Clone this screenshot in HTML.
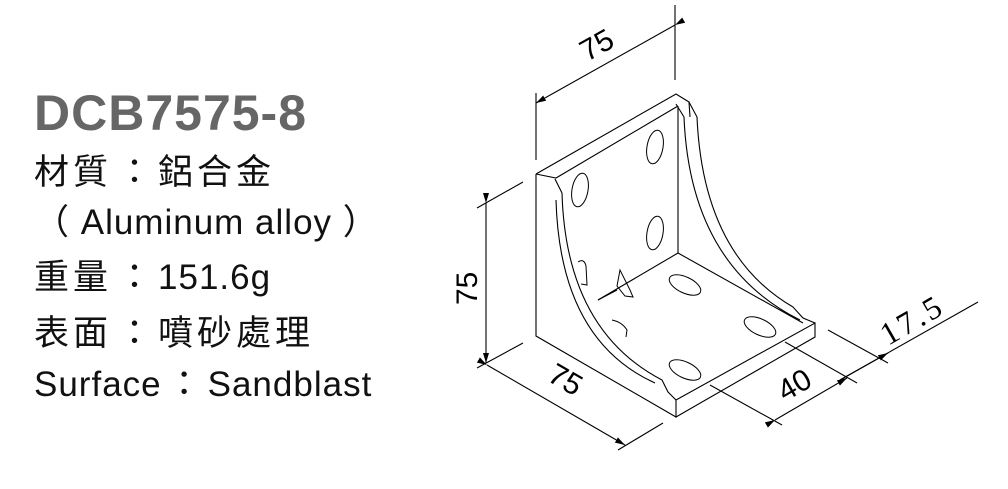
<!DOCTYPE html>
<html><head><meta charset="utf-8"><style>
body{margin:0;width:1008px;height:489px;background:#fff;overflow:hidden;position:relative;font-family:"Liberation Sans","Noto Sans CJK TC",sans-serif;}
.t{position:absolute;left:34px;font-size:35px;color:#111;white-space:nowrap;line-height:1;letter-spacing:1px;}
.c{display:inline-block;width:46px;text-align:center;}
.k{letter-spacing:4px;}
</style></head><body>
<div class="t" style="top:88px;font-size:50px;font-weight:bold;color:#666;letter-spacing:1px;">DCB7575-8</div>
<div class="t" style="top:155px;"><span class="k">材質</span><span class="c">：</span><span class="k">鋁合金</span></div>
<div class="t" style="top:205px;">（ Aluminum alloy ）</div>
<div class="t" style="top:260px;"><span class="k">重量</span><span class="c">：</span>151.6g</div>
<div class="t" style="top:316px;"><span class="k">表面</span><span class="c">：</span><span class="k">噴砂處理</span></div>
<div class="t" style="top:367px;">Surface<span class="c">：</span>Sandblast</div>
<svg width="1008" height="489" style="position:absolute;left:0;top:0" fill="none" stroke="#000" stroke-width="1.1">
<defs><marker id="a" markerWidth="10" markerHeight="6" refX="10" refY="3" orient="auto" markerUnits="userSpaceOnUse"><path d="M0,0L10,3L0,6z" fill="#000" stroke="none"/></marker></defs>
<path d="M536,174 L676,94 L689,102 L690,117"/>
<path d="M536,174 L536,336 L676,417 L676,400"/>
<path d="M536,174 L556,178 L678,106"/>
<path d="M678,106 L678,253 L803,323"/>
<path d="M678,253 L598,300"/>
<path d="M676,400 L815,323 L815,337 L676,417"/>
<path d="M555,179 L562,193"/>
<path d="M562,193 Q566,330 662,380 L668,392 L676,400"/>
<path d="M556,200 Q560,340 655,383"/>
<path d="M689,102 L697,117 Q703,255 793,307 L803,318 L815,323"/>
<path d="M684,117 Q690,265 800,320"/>
<path d="M676,104 L684,117"/>
<g stroke-width="1">
<ellipse cx="655" cy="147" rx="8" ry="17" transform="rotate(10 655 147)"/>
<ellipse cx="580" cy="190" rx="8" ry="17" transform="rotate(10 580 190)"/>
<ellipse cx="655" cy="233" rx="8" ry="17" transform="rotate(10 655 233)"/>
<path d="M578,262 Q584,258 586,266 L587,285 L581,284"/>
<ellipse cx="685" cy="285" rx="17" ry="8" transform="rotate(25 685 285)"/>
<ellipse cx="760" cy="327" rx="17" ry="8" transform="rotate(25 760 327)"/>
<ellipse cx="685" cy="370" rx="17" ry="8" transform="rotate(25 685 370)"/>
<path d="M612,320 Q622,322 627,330 L626,337"/>
<path d="M617,286 L620,270 L630,290 L633,297 L625,296 Z"/>
<path d="M598,300 L617,290"/>
</g>
<path d="M675,5 L675,80"/>
<path d="M536,93 L536,160"/>
<path d="M675,25 L536,103" marker-start="url(#a)" marker-end="url(#a)"/>
<text x="0" y="0" transform="translate(587,62) rotate(-29)" fill="#000" stroke="none" font-size="30" font-family="Liberation Sans">75</text>
<path d="M523,182 L477,208"/><path d="M523,343 L477,368"/>
<path d="M486,203 L486,363" marker-start="url(#a)" marker-end="url(#a)"/>
<text x="0" y="0" transform="translate(477,305) rotate(-90)" fill="#000" stroke="none" font-size="30" font-family="Liberation Sans">75</text>
<path d="M487,365 L625,445" marker-start="url(#a)" marker-end="url(#a)"/>
<path d="M663,423 L618,450"/>
<text x="0" y="0" transform="translate(546,380) rotate(30)" fill="#000" stroke="none" font-size="30" font-family="Liberation Sans">75</text>
<path d="M710,385 L782,425"/><path d="M785,342 L857,383"/>
<path d="M775,420 L847,378" marker-start="url(#a)" marker-end="url(#a)"/>
<text x="0" y="0" transform="translate(785,402) rotate(-30)" fill="#000" stroke="none" font-size="30" font-family="Liberation Sans">40</text>
<path d="M828,330 L888,363"/>
<path d="M840,380 L978,302"/>
<path d="M840,380 L888,353" marker-end="url(#a)"/>
<text x="0" y="0" transform="translate(888,346) rotate(-30)" fill="#000" stroke="none" font-size="32" letter-spacing="3" font-family="Liberation Serif">17.5</text>
</svg>
</body></html>
